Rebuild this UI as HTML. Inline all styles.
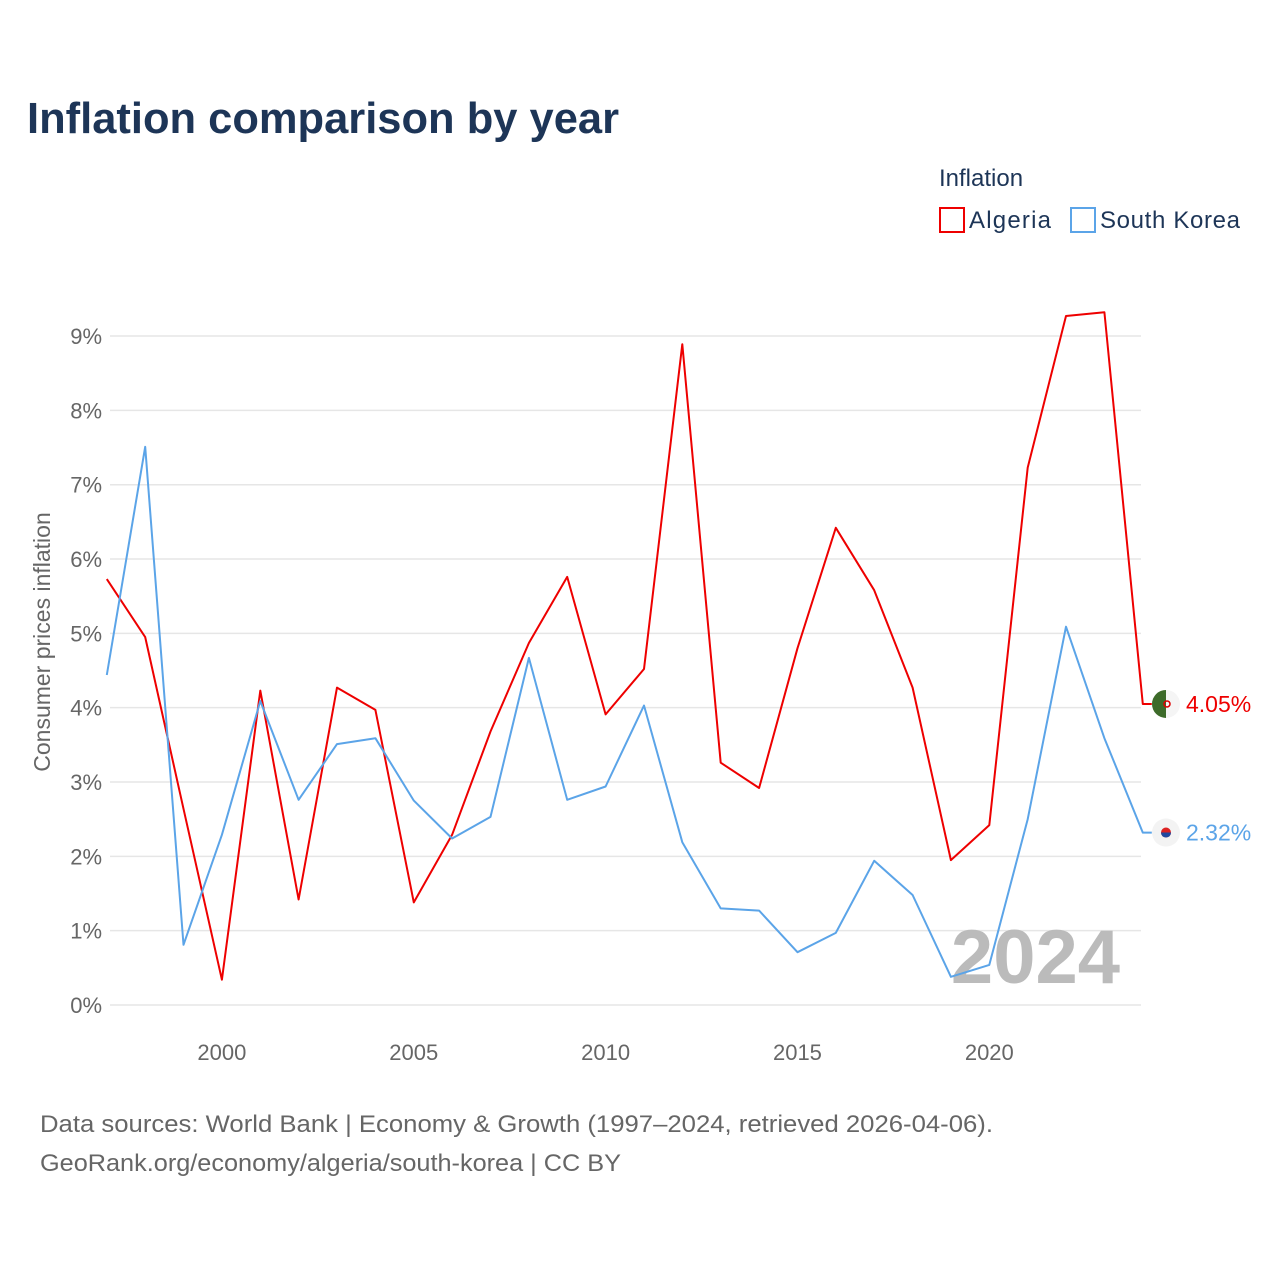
<!DOCTYPE html>
<html><head><meta charset="utf-8"><style>
body{margin:0;background:#fff;font-family:"Liberation Sans",sans-serif}
svg text{font-family:"Liberation Sans",sans-serif}
</style></head><body>
<svg width="1280" height="1280" viewBox="0 0 1280 1280">
<text x="27" y="133" font-size="44" font-weight="bold" fill="#1d3557" textLength="592" lengthAdjust="spacingAndGlyphs">Inflation comparison by year</text>
<text x="939" y="186" font-size="24" fill="#1d3557">Inflation</text>
<g><rect x="940" y="208" width="24" height="24" fill="none" stroke="#ee0000" stroke-width="2"/><text x="969" y="228" font-size="24" fill="#1d3557" textLength="82">Algeria</text></g>
<g><rect x="1071" y="208" width="24" height="24" fill="none" stroke="#5ba4e8" stroke-width="2"/><text x="1100" y="228" font-size="24" fill="#1d3557" textLength="140">South Korea</text></g>
<g id="grid"></g>
<g id="yticks"></g>
<g id="xticks"></g>
<text transform="translate(50,642) rotate(-90)" text-anchor="middle" font-size="23" fill="#666">Consumer prices inflation</text>
<text x="1120" y="983" text-anchor="end" font-size="76" font-weight="bold" fill="#bbb">2024</text>
<g id="series"></g>
<text x="40" y="1132" font-size="24" fill="#666" textLength="953" lengthAdjust="spacingAndGlyphs">Data sources: World Bank | Economy &amp; Growth (1997–2024, retrieved 2026-04-06).</text>
<text x="40" y="1171" font-size="24" fill="#666" textLength="581" lengthAdjust="spacingAndGlyphs">GeoRank.org/economy/algeria/south-korea | CC BY</text>
</svg>
<script>
const years=[1997,1998,1999,2000,2001,2002,2003,2004,2005,2006,2007,2008,2009,2010,2011,2012,2013,2014,2015,2016,2017,2018,2019,2020,2021,2022,2023,2024];
const algeria=[5.73,4.95,2.64,0.34,4.23,1.42,4.27,3.97,1.38,2.29,3.68,4.87,5.76,3.91,4.52,8.89,3.26,2.92,4.80,6.42,5.58,4.27,1.95,2.42,7.23,9.27,9.32,4.05];
const korea=[4.44,7.51,0.81,2.29,4.09,2.76,3.51,3.59,2.75,2.24,2.53,4.67,2.76,2.94,4.03,2.19,1.30,1.27,0.71,0.97,1.94,1.48,0.38,0.54,2.50,5.09,3.59,2.32];
const yTicks=[0,1,2,3,4,5,6,7,8,9];
const xTicks=[2000,2005,2010,2015,2020];
const NS="http://www.w3.org/2000/svg";
const X=y=>106.8+(y-1997)*38.37;
const Y=v=>1005-v*74.33;
function mk(t,a,p){const e=document.createElementNS(NS,t);for(const k in a)e.setAttribute(k,a[k]);p.appendChild(e);return e;}
const grid=document.getElementById('grid'),yt=document.getElementById('yticks'),xt=document.getElementById('xticks'),ser=document.getElementById('series');
yTicks.forEach(v=>{
 const l=mk('line',{x1:110,x2:1141,y1:Y(v),y2:Y(v),stroke:'#e6e6e6','stroke-width':1.5},grid);
 
 
 const t=mk('text',{x:102,y:Y(v)+8,'text-anchor':'end','font-size':22,fill:'#666'},yt);t.textContent=v+'%';
 
 
});
xTicks.forEach(v=>{
 const t=mk('text',{x:X(v),y:1060,'text-anchor':'middle','font-size':22,fill:'#666'},xt);t.textContent=v;
 
 
});
function line(data,color,name){
 let d=data.map((v,i)=>(i?'L':'M')+X(years[i]).toFixed(1)+','+Y(v).toFixed(1)).join('');
 const last=data[data.length-1];
 d+='L'+(X(years[years.length-1])+9)+','+Y(last).toFixed(1);
 const p=mk('path',{d:d,fill:'none',stroke:color,'stroke-width':2,'stroke-linejoin':'round'},ser);
 
 
 return last;
}
const la=line(algeria,'#ee0000','algeria');
const lk=line(korea,'#5ba4e8','south-korea');
let g=mk('g',{},ser);


mk('circle',{cx:1166,cy:Y(la),r:14,fill:'#f5f5f5'},g);
mk('path',{d:`M1166,${Y(la)-14}A14,14 0 0,0 1166,${Y(la)+14}Z`,fill:'#3d6b2a'},g);
mk('circle',{cx:1167,cy:Y(la),r:3,fill:'none',stroke:'#d00','stroke-width':1.5},g);
let t=mk('text',{x:1186,y:Y(la)+8,'font-size':23,fill:'#ee0000'},ser);t.textContent=la.toFixed(2)+'%';


g=mk('g',{},ser);


mk('circle',{cx:1166,cy:Y(lk),r:14,fill:'#f3f3f3'},g);
mk('circle',{cx:1166,cy:Y(lk),r:5,fill:'#d22'},g);
mk('path',{d:`M1161,${Y(lk)}A5,5 0 0,0 1171,${Y(lk)}Z`,fill:'#2049a0'},g);
t=mk('text',{x:1186,y:Y(lk)+8,'font-size':23,fill:'#5ba4e8'},ser);t.textContent=lk.toFixed(2)+'%';


</script>
</body></html>
